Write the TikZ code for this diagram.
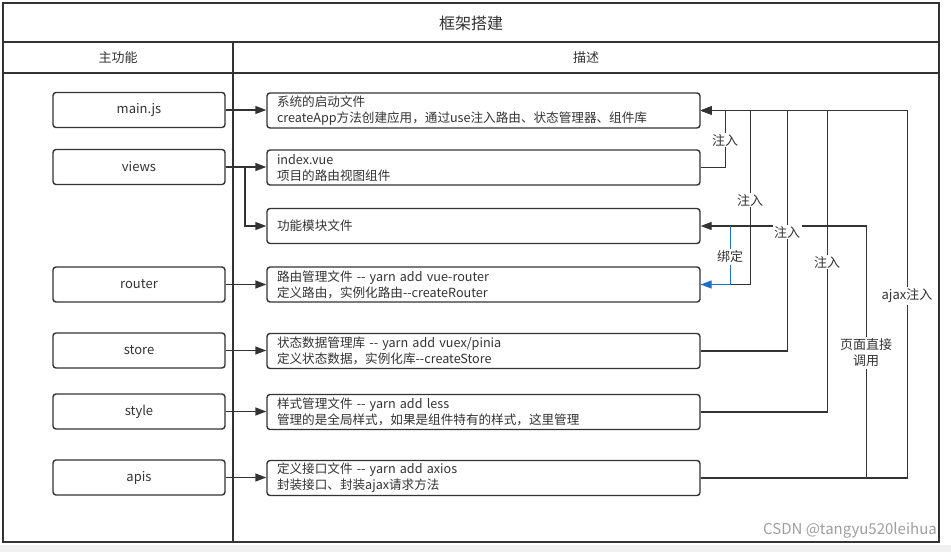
\documentclass[tikz,border=0pt]{standalone}
\usepackage{fontspec}
\setmainfont{Noto Sans CJK SC}
\usetikzlibrary{arrows.meta,calc}
\definecolor{lc}{HTML}{333333}
\definecolor{tc}{HTML}{333333}
\definecolor{bl}{HTML}{1F6FC5}
\definecolor{strip}{HTML}{F0F0F0}
\tikzset{
  frame/.style={draw=lc, line width=1.6pt},
  lbox/.style={draw=lc, line width=1.4pt, rounded corners=3pt, minimum width=172pt, minimum height=35pt, inner sep=0pt, font=\fontsize{13}{15}\selectfont, text=tc},
  rbox/.style={draw=lc, line width=1.4pt, rounded corners=3pt, minimum width=433pt, minimum height=35pt, text width=413pt, align=left, inner xsep=10pt, inner ysep=0pt, font=\fontsize{12.6}{16}\selectfont, text=tc},
  conn/.style={draw=lc, line width=1.4pt},
  arr/.style={conn, -{Triangle[length=11pt,width=8pt]}},
  barr/.style={draw=bl, line width=1.4pt, -{Triangle[length=11pt,width=8pt]}},
  lbl/.style={fill=white, inner sep=1.5pt, font=\fontsize{13}{16}\selectfont, text=tc, align=center},
  hdr/.style={font=\fontsize{13}{15}\selectfont, text=tc},
}
\begin{document}
\begin{tikzpicture}[x=1pt,y=-1pt]
\useasboundingbox (0,0) rectangle (951,552);
\fill[white] (0,0) rectangle (951,552);
\fill[strip] (0,545) rectangle (951,552);
% frame
\draw[frame] (3,3) rectangle (939,542);
\draw[frame] (3,42) -- (939,42);
\draw[frame] (3,73) -- (939,73);
\draw[frame] (233,42) -- (233,542);
\node[font=\fontsize{16}{18}\selectfont, text=tc] (title) at (471,23) {框架搭建};
\node[hdr] (h1) at (118,58) {主功能};
\node[hdr] (h2) at (586,58) {描述};
% left boxes
\node[lbox] (l1) at (139,110) {main.js};
\node[lbox] (l2) at (139,167) {views};
\node[lbox] (l3) at (139,284.5) {router};
\node[lbox] (l4) at (139,350.5) {store};
\node[lbox] (l5) at (139,411.5) {style};
\node[lbox] (l6) at (139,477.5) {apis};
% right boxes
\node[rbox] (r1) at (483.5,110.5) {系统的启动文件\\createApp方法创建应用，通过use注入路由、状态管理器、组件库};
\node[rbox] (r2) at (483.5,167.5) {index.vue\\项目的路由视图组件};
\node[rbox] (r3) at (483.5,226) {功能模块文件};
\node[rbox] (r4) at (483.5,284.5) {路由管理文件 -{}- yarn add vue-router\\定义路由，实例化路由-{}-createRouter};
\node[rbox] (r5) at (483.5,351) {状态数据管理库 -{}- yarn add vuex/pinia\\定义状态数据，实例化库-{}-createStore};
\node[rbox] (r6) at (483.5,412) {样式管理文件 -{}- yarn add less\\管理的是全局样式，如果是组件特有的样式，这里管理};
\node[rbox] (r7) at (483.5,478) {定义接口文件 -{}- yarn add axios\\封装接口、封装ajax请求方法};
% left to right
\draw[arr] (l1.east) -- (l1.east -| r1.west);
\draw[arr] (l2.east) -- (l2.east -| r2.west);
\draw[arr] (l3.east) -- (l3.east -| r4.west);
\draw[arr] (l4.east) -- (l4.east -| r5.west);
\draw[arr] (l5.east) -- (l5.east -| r6.west);
\draw[arr] (l6.east) -- (l6.east -| r7.west);
\coordinate (vb) at (245,167);
\draw[arr] (vb) |- (r3.west);
% right side connectors
\draw[arr] (r2.east) -| ([xshift=25pt]r1.east) -- (r1.east);
\draw[arr] (r4.east) -| ([xshift=50pt]r1.east) -- (r1.east);
\draw[arr] (r5.east) -| ([xshift=87pt]r1.east) -- (r1.east);
\draw[arr] (r6.east) -| ([xshift=127pt]r1.east) -- (r1.east);
\draw[arr] (r7.east) -| ([xshift=207pt]r1.east) -- (r1.east);
\draw[arr] (r7.east) -| ([xshift=166pt]r3.east) -- (r3.east);
\draw[barr] ([xshift=30pt]r3.east) |- (r4.east);
% labels
\node[lbl] (t1) at (725,140) {注入};
\node[lbl] (t2) at (750,200) {注入};
\node[lbl] (t3) at (787,232) {注入};
\node[lbl] (t4) at (827,262) {注入};
\node[lbl] (t5) at (907,296) {ajax注入};
\node[lbl] (t6) at (866,353) {页面直接\\调用};
\node[lbl] (t7) at (730,257) {绑定};
% watermark
\node[anchor=east, font=\fontsize{15}{17}\selectfont, text=gray!75, inner sep=0pt] (wm) at (937,530) {CSDN @tangyu520leihua};
\end{tikzpicture}
\end{document}
